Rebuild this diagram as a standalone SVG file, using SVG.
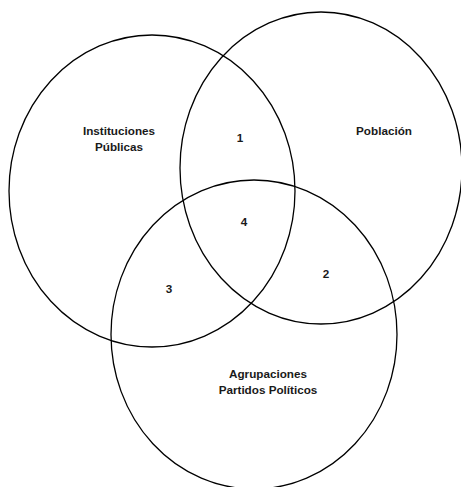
<svg xmlns="http://www.w3.org/2000/svg" width="461" height="487" viewBox="0 0 461 487">
  <style>
    .set { fill: none; stroke: #000; stroke-width: 1.3; }
    .lbl { font-family: "Liberation Sans", Arial, sans-serif; font-weight: bold; font-size: 11.7px; fill: #1a1a1a; text-anchor: middle; }
  </style>
  <rect width="461" height="487" fill="#fff"/>
  <g id="instituciones">
    <ellipse class="set" cx="152" cy="191" rx="143" ry="156"/>
    <text class="lbl" x="119" y="135">Instituciones</text>
    <text class="lbl" x="119" y="151">Públicas</text>
  </g>
  <g id="poblacion">
    <ellipse class="set" cx="321" cy="168" rx="141" ry="156"/>
    <text class="lbl" x="384" y="135">Población</text>
  </g>
  <g id="agrupaciones">
    <ellipse class="set" cx="254" cy="334.5" rx="143" ry="154.5"/>
    <text class="lbl" x="268" y="378">Agrupaciones</text>
    <text class="lbl" x="268" y="394">Partidos Políticos</text>
  </g>
  <g id="regiones">
    <text class="lbl" x="240" y="142">1</text>
    <text class="lbl" x="326" y="278">2</text>
    <text class="lbl" x="169" y="293">3</text>
    <text class="lbl" x="244" y="226">4</text>
  </g>
</svg>
